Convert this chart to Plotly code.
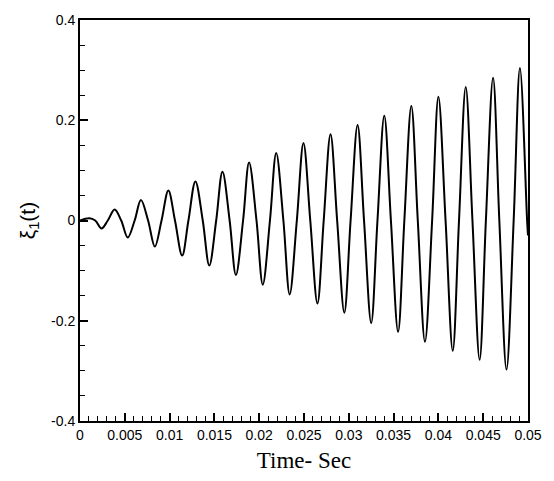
import plotly.graph_objects as go

# Key points (extrema and zero crossings)
t_points = [0.0, 0.00103, 0.0017, 0.0024, 0.0031, 0.00386, 0.0046, 0.00533, 0.0061,
            0.0068, 0.0076, 0.00835, 0.0091, 0.00986, 0.0106, 0.0114, 0.0121, 0.01288,
            0.0137, 0.01443, 0.0152, 0.0159, 0.0167, 0.0174, 0.0182, 0.01887, 0.0197,
            0.0204, 0.0212, 0.0219, 0.0227, 0.0234, 0.0242, 0.02494, 0.0257, 0.0265,
            0.0272, 0.02796, 0.0287, 0.0295, 0.0302, 0.03098, 0.0317, 0.0325, 0.0332,
            0.03396, 0.0347, 0.0355, 0.0362, 0.03698, 0.0377, 0.0385, 0.0393, 0.0400,
            0.0408, 0.0416, 0.0423, 0.04305, 0.0438, 0.0446, 0.0453, 0.0461, 0.0468,
            0.0476, 0.0484, 0.0491, 0.0499, 0.0500]
xi_points = [0.0, 0.0045, 0.0, -0.016, 0.0, 0.022, 0.0, -0.034, 0.0,
             0.041, 0.0, -0.052, 0.0, 0.060, 0.0, -0.070, 0.0, 0.078,
             0.0, -0.090, 0.0, 0.0975, 0.0, -0.1085, 0.0, 0.1156, 0.0,
             -0.128, 0.0, 0.1345, 0.0, -0.1475, 0.0, 0.1546, 0.0, -0.1657,
             0.0, 0.172, 0.0, -0.1838, 0.0, 0.1904, 0.0, -0.2046, 0.0,
             0.209, 0.0, -0.222, 0.0, 0.2286, 0.0, -0.2417, 0.0, 0.247,
             0.0, -0.260, 0.0, 0.2665, 0.0, -0.278, 0.0, 0.2846, 0.0,
             -0.2975, 0.0, 0.304, 0.0, -0.03]

x_ticks = [0, 0.005, 0.01, 0.015, 0.02, 0.025, 0.03, 0.035, 0.04, 0.045, 0.05]
x_ticklabels = ["0", "0.005", "0.01", "0.015", "0.02", "0.025", "0.03", "0.035", "0.04", "0.045", "0.05"]
y_ticks = [-0.4, -0.2, 0, 0.2, 0.4]
y_ticklabels = ["-0.4", "-0.2", "0", "0.2", "0.4"]

fig = go.Figure()
fig.add_trace(go.Scatter(x=t_points, y=xi_points, mode="lines",
                         line=dict(color="black", width=2, shape="spline", smoothing=1.0),
                         showlegend=False, hoverinfo="skip"))

tickfont = dict(family="Liberation Sans, Arial", size=14, color="black")
fig.update_layout(
    width=554, height=481,
    margin=dict(l=80, r=21, t=15, b=55),
    paper_bgcolor="white", plot_bgcolor="white",
    xaxis=dict(range=[0, 0.05], tickvals=x_ticks, ticktext=x_ticklabels,
               ticks="inside", ticklen=8, tickwidth=1.5, tickcolor="black",
               minor=dict(dtick=0.001, ticks="inside", ticklen=5, tickcolor="black", tickwidth=1),
               showline=True, linecolor="black", linewidth=2, mirror=True,
               showgrid=False, zeroline=False, tickfont=tickfont,
               title=dict(text="Time- Sec", font=dict(family="Liberation Serif, Times New Roman", size=23, color="black"), standoff=10)),
    yaxis=dict(range=[-0.4, 0.4], tickvals=y_ticks, ticktext=y_ticklabels,
               ticks="inside", ticklen=8, tickwidth=1.5, tickcolor="black",
               minor=dict(dtick=0.05, ticks="inside", ticklen=5, tickcolor="black", tickwidth=1),
               showline=True, linecolor="black", linewidth=2, mirror=True,
               showgrid=False, zeroline=False, tickfont=tickfont,
               title=dict(text="ξ<sub>1</sub>(t)", font=dict(family="Liberation Sans, Arial", size=21, color="black"), standoff=10)),
)

fig.write_html("out.html")
